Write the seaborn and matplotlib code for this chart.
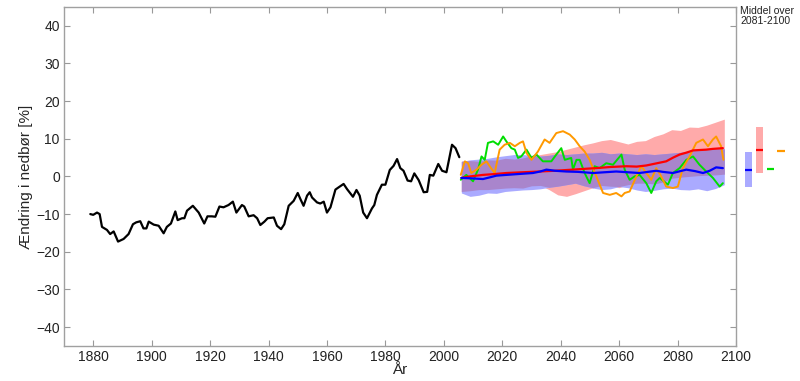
import numpy as np
import matplotlib
matplotlib.use("Agg")
import matplotlib.pyplot as plt
import seaborn as sns

# observed (smoothed) precipitation anomaly, %
hist_years = [1879.0, 1880.0, 1881.3, 1882.2, 1883.0, 1884.7, 1885.8, 1887.0, 1888.5, 1890.4,
              1892.1, 1893.6, 1894.7, 1896.1, 1897.2, 1898.2, 1899.0, 1900.7, 1902.4, 1904.1,
              1905.2, 1906.6, 1908.1, 1908.9, 1910.4, 1911.2, 1912.1, 1914.1, 1916.1, 1918.0,
              1919.1, 1920.6, 1921.8, 1923.2, 1924.6, 1926.3, 1927.8, 1929.0, 1930.9, 1931.7,
              1933.2, 1934.9, 1936.1, 1937.2, 1938.6, 1939.7, 1941.8, 1942.9, 1944.3, 1945.4,
              1946.9, 1948.6, 1950.0, 1950.9, 1952.0, 1953.2, 1954.1, 1954.9, 1956.6, 1957.7,
              1958.9, 1960.0, 1961.2, 1962.9, 1964.0, 1965.7, 1966.9, 1968.9, 1970.1, 1971.2,
              1972.4, 1973.7, 1975.4, 1976.2, 1977.1, 1978.8, 1980.0, 1981.5, 1982.8, 1984.0,
              1985.1, 1986.2, 1987.6, 1988.8, 1989.9, 1991.4, 1993.1, 1994.3, 1995.2, 1996.4,
              1998.1, 1999.4, 2000.9, 2002.8, 2004.0, 2005.3]
hist_vals = [-10.0, -10.2, -9.6, -10.0, -13.4, -14.2, -15.3, -14.6, -17.3, -16.6,
             -15.3, -12.7, -12.2, -11.9, -13.8, -13.8, -12.0, -12.8, -13.1, -15.1,
             -13.4, -12.5, -9.3, -11.6, -11.1, -11.1, -9.1, -7.8, -9.6, -12.5,
             -10.6, -10.6, -10.7, -8.0, -8.2, -7.6, -6.7, -9.6, -7.6, -8.0,
             -10.6, -10.3, -11.1, -12.9, -12.0, -11.1, -10.9, -13.1, -14.0, -12.7,
             -7.8, -6.5, -4.4, -6.0, -7.8, -5.1, -4.2, -5.6, -6.9, -7.2,
             -6.7, -9.6, -8.2, -3.5, -2.9, -2.0, -3.4, -5.4, -3.6, -5.1,
             -9.6, -11.1, -8.5, -7.6, -4.9, -2.2, -2.2, 1.7, 2.8, 4.6,
             2.2, 1.5, -1.1, -1.3, 0.8, -1.0, -4.2, -4.1, 0.4, 0.2,
             3.3, 1.5, 1.1, 8.4, 7.5, 5.1]

# scenario spreads
band_years = [2006, 2009, 2012, 2015, 2018, 2021, 2024, 2027, 2030, 2033, 2036, 2039, 2042,
              2045, 2048, 2051, 2054, 2057, 2060, 2063, 2066, 2069, 2072, 2075, 2078, 2081,
              2084, 2087, 2090, 2093, 2096]
red_hi = [4.0, 4.2, 4.0, 4.4, 4.3, 4.8, 4.6, 4.9, 5.5, 5.8, 6.2, 6.6, 7.2,
          7.8, 8.4, 8.9, 9.5, 9.8, 9.2, 8.6, 9.3, 9.5, 10.6, 11.3, 12.4, 12.2,
          13.1, 13.0, 13.6, 14.4, 15.2]
red_lo = [-4.0, -3.8, -3.5, -3.5, -3.3, -3.1, -3.0, -3.1, -2.5, -2.4, -3.5, -4.9, -5.3,
          -4.6, -3.8, -3.0, -2.4, -2.6, -3.0, -2.2, -1.8, -1.8, -2.0, -1.5, -0.5, -0.2,
          0.0, 0.2, 0.3, 0.4, 0.6]
blue_hi = [4.0, 4.4, 4.6, 4.8, 5.2, 5.5, 5.8, 5.8, 5.6, 5.4, 5.6, 6.0, 5.8,
           6.0, 6.2, 6.2, 6.4, 6.0, 6.2, 6.0, 5.8, 6.0, 5.8, 6.0, 6.2, 6.4,
           6.8, 7.0, 7.4, 7.6, 7.3]
blue_lo = [-4.4, -5.3, -5.0, -4.4, -4.5, -4.0, -3.8, -3.6, -3.5, -3.3, -2.9, -2.6, -2.2,
           -1.8, -2.5, -3.1, -3.5, -3.3, -2.7, -3.0, -3.6, -4.0, -3.7, -3.3, -3.1, -3.5,
           -3.6, -3.3, -3.8, -3.2, -2.2]

red_mean_years = [2006, 2009, 2013.4, 2017, 2021.4, 2027, 2032.8, 2038, 2044.2, 2048, 2052.2,
                  2057, 2062.5, 2066, 2069.3, 2073, 2076.1, 2078.5, 2080.7, 2083, 2085.3,
                  2087.5, 2089.8, 2092, 2095.5]
red_mean = [-0.4, 0.0, 0.4, 0.6, 0.9, 1.1, 1.3, 1.5, 1.8, 2.0, 2.2,
            2.5, 2.7, 2.6, 2.9, 3.5, 4.0, 5.0, 5.8, 6.3, 6.9,
            7.0, 7.1, 7.3, 7.5]
blue_mean_years = [2006, 2009, 2011.2, 2013.4, 2016, 2018, 2021.4, 2025, 2030.5, 2033, 2035.1,
                   2038, 2041.9, 2046, 2051.1, 2055, 2059, 2063, 2067, 2072.7, 2075, 2078.4,
                   2083, 2086, 2088.7, 2091, 2093.2, 2095.5]
blue_mean = [-0.4, -0.5, -0.6, -0.7, -0.2, 0.2, 0.4, 0.6, 0.9, 1.3, 1.8,
             1.5, 1.3, 1.2, 0.9, 1.1, 1.3, 1.1, 0.9, 1.5, 1.2, 0.9,
             1.8, 1.4, 0.9, 1.5, 2.4, 2.2]

green_years = [2005.8, 2007.7, 2010.0, 2011.7, 2012.9, 2014.0, 2015.1, 2016.9, 2018.6, 2020.3,
               2021.4, 2023.1, 2024.3, 2025.4, 2026.5, 2028.3, 2030.0, 2031.7, 2033.9, 2036.8,
               2038.5, 2040.2, 2041.4, 2043.6, 2044.2, 2045.4, 2046.5, 2048.2, 2049.9, 2051.6,
               2053.3, 2055.6, 2057.9, 2060.8, 2061.9, 2063.6, 2065.3, 2067.0, 2069.3, 2071.0,
               2072.7, 2073.9, 2076.7, 2078.4, 2080.7, 2083.0, 2085.3, 2087.5, 2089.8, 2092.1,
               2094.4, 2095.5]
green_vals = [-0.9, 0.4, -1.3, 1.8, 5.3, 4.4, 8.9, 9.3, 8.4, 10.6,
              9.3, 7.5, 7.1, 4.9, 5.3, 7.1, 4.9, 5.8, 4.0, 4.0,
              5.8, 7.5, 4.4, 4.9, 1.8, 4.4, 4.4, 0.9, -1.8, 2.7,
              2.2, 3.5, 3.1, 5.8, 1.8, -0.9, 0.0, 0.4, -1.8, -4.4,
              -1.3, -0.4, -2.2, 0.9, 2.2, 4.4, 5.3, 3.1, 1.3, -0.4,
              -2.7, -1.8]

orange_years = [2005.8, 2007.2, 2008.3, 2009.4, 2011.2, 2012.9, 2014.6, 2015.7, 2017.4, 2019.1,
                2020.8, 2022.6, 2024.3, 2026.0, 2027.1, 2028.3, 2030.0, 2032.2, 2034.5, 2036.2,
                2038.5, 2040.8, 2043.1, 2044.8, 2046.5, 2048.2, 2049.9, 2052.2, 2054.5, 2056.8,
                2059.0, 2060.8, 2061.9, 2063.6, 2065.9, 2067.6, 2069.3, 2071.0, 2072.7, 2074.4,
                2076.1, 2078.4, 2080.1, 2081.8, 2084.1, 2086.4, 2088.7, 2090.4, 2092.1, 2093.2,
                2094.9, 2095.7]
orange_vals = [0.4, 4.0, 3.5, 0.9, 1.8, 3.1, 4.0, 2.7, 0.9, 7.1,
               8.4, 8.9, 8.0, 8.9, 9.3, 6.2, 4.4, 6.6, 9.8, 8.9,
               11.5, 12.0, 11.1, 9.8, 8.0, 6.6, 4.4, 0.0, -4.4, -4.9,
               -4.4, -5.3, -4.4, -4.0, 0.0, 2.7, 0.9, -0.9, 2.2, 0.0,
               -2.7, -3.1, -2.7, 2.2, 5.3, 8.9, 9.8, 8.0, 9.8, 10.6,
               8.0, 4.4]

# 2081-2100 means and ranges (blue, red, green, orange)
end_labels = ["blue", "red", "green", "orange"]
end_means = [1.7, 7.0, 2.0, 6.8]
end_lo = [-2.8, 0.9, None, None]
end_hi = [6.5, 13.1, None, None]

RED_FILL = "#ffaaaa"
BLUE_FILL = "#aaaaff"
OVERLAP = "#a985cc"
LINE_COLORS = {"blue": "#0000ff", "red": "#ff0000", "green": "#00dd00", "orange": "#ff9900"}

sns.set_theme(style="ticks")
plt.rcParams["font.family"] = ["Liberation Sans", "DejaVu Sans"]

fig = plt.figure(figsize=(8.0, 3.81), dpi=100)
ax = fig.add_axes([0.08, 0.092, 0.84, 0.89])

by = np.array(band_years)
rh, rl = np.array(red_hi), np.array(red_lo)
bh, bl = np.array(blue_hi), np.array(blue_lo)
ax.fill_between(by, rl, rh, color=RED_FILL, lw=0)
ax.fill_between(by, bl, bh, color=BLUE_FILL, lw=0)
ax.fill_between(by, np.maximum(rl, bl), np.minimum(rh, bh), color=OVERLAP, lw=0)

sns.lineplot(x=hist_years, y=hist_vals, ax=ax, color="black", lw=1.6)
sns.lineplot(x=green_years, y=green_vals, ax=ax, color=LINE_COLORS["green"], lw=1.4)
sns.lineplot(x=orange_years, y=orange_vals, ax=ax, color=LINE_COLORS["orange"], lw=1.4)
sns.lineplot(x=red_mean_years, y=red_mean, ax=ax, color=LINE_COLORS["red"], lw=1.6)
sns.lineplot(x=blue_mean_years, y=blue_mean, ax=ax, color=LINE_COLORS["blue"], lw=1.6)

ax.set_xlim(1870, 2100)
ax.set_ylim(-45, 45)
ax.set_xticks(range(1880, 2101, 20))
ax.set_yticks(range(-40, 41, 10))
ax.tick_params(direction="in", top=True, right=True, length=4, width=0.8,
               color="#999999", labelsize=10, labelcolor="#222222", pad=3)
for s in ax.spines.values():
    s.set_visible(True)
    s.set_color("#a0a0a0")
    s.set_linewidth(1.0)
ax.set_xlabel("År", fontsize=11, labelpad=-1)
ax.set_ylabel("Ændring i nedbør [%]", fontsize=11, labelpad=2)

# side panel with 2081-2100 means
ax2 = fig.add_axes([0.929, 0.092, 0.054, 0.89])
ax2.set_xlim(-0.5, 3.5)
ax2.set_ylim(-45, 45)
ax2.axis("off")
for i, name in enumerate(end_labels):
    if end_lo[i] is not None:
        ax2.bar(i, end_hi[i] - end_lo[i], bottom=end_lo[i], width=0.62,
                color=RED_FILL if name == "red" else BLUE_FILL, lw=0)
    ax2.hlines(end_means[i], i - 0.33, i + 0.33, color=LINE_COLORS[name], lw=1.6)

fig.text(0.925, 0.985, "Middel over\n2081-2100", fontsize=7.5, va="top", ha="left",
         color="#222222", linespacing=1.0)

fig.savefig("out.png", dpi=100)
